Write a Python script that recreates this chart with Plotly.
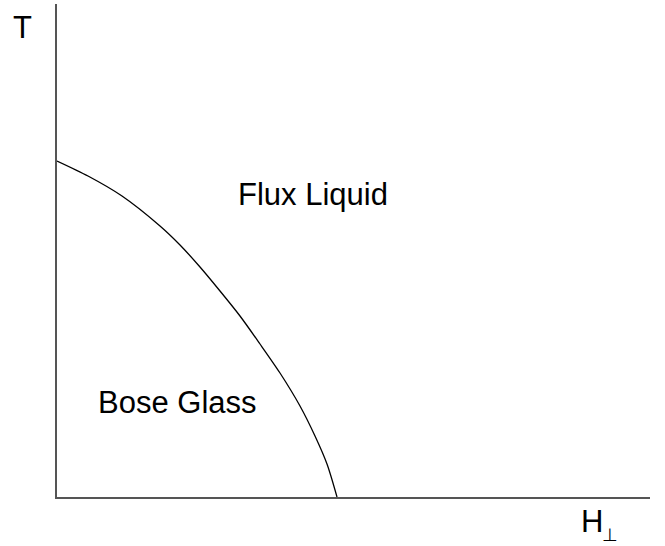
import plotly.graph_objects as go

# phase boundary T(H) (arbitrary units)
h_vals = [0.00, 0.31, 0.65, 1.03, 1.23, 1.43, 1.63, 1.83, 2.03, 2.23, 2.43, 2.58, 2.70, 2.80]
t_vals = [3.36, 3.21, 3.01, 2.71, 2.52, 2.30, 2.06, 1.81, 1.53, 1.24, 0.91, 0.61, 0.33, 0.00]

fnt = dict(family="Liberation Sans, Arial, sans-serif", size=31, color="black")

fig = go.Figure()
fig.add_trace(go.Scatter(x=h_vals, y=t_vals, mode="lines",
                         line=dict(color="black", width=1.3, shape="spline", smoothing=0.8),
                         hoverinfo="skip", showlegend=False))

fig.update_xaxes(range=[0, 5.93], showline=True, linecolor="#555555", linewidth=1.5,
                 showgrid=False, zeroline=False, showticklabels=False, ticks="")
fig.update_yaxes(range=[0, 4.93], showline=True, linecolor="#555555", linewidth=1.5,
                 showgrid=False, zeroline=False, showticklabels=False, ticks="")

ann = dict(showarrow=False, xanchor="center", yanchor="middle")
fig.update_layout(
    width=665, height=546,
    margin=dict(l=57, r=15, t=4, b=49),
    plot_bgcolor="white", paper_bgcolor="white",
    showlegend=False,
    annotations=[
        dict(text="Flux Liquid", x=2.56, y=3.03, xref="x", yref="y", font=fnt, **ann),
        dict(text="Bose Glass", x=1.20, y=0.945, xref="x", yref="y", font=fnt, **ann),
        dict(text="T", x=-0.059, y=0.952, xref="paper", yref="paper", font=fnt, **ann),
        dict(text="H", x=0.902, y=-0.050, xref="paper", yref="paper", font=fnt, **ann),
        dict(text="⊥", x=0.933, y=-0.078, xref="paper", yref="paper",
             font=dict(family=fnt["family"], size=18, color="black"), **ann),
    ],
)

fig.write_html("out.html", config={"displayModeBar": False},
               post_script="document.body.style.margin='0px';")
